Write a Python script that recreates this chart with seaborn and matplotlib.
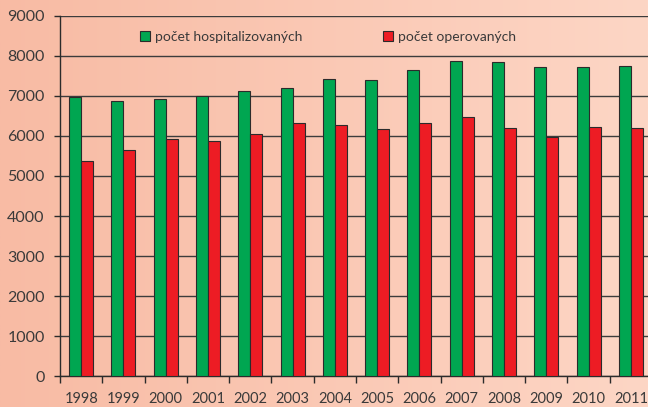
import matplotlib
matplotlib.use("Agg")
import matplotlib.pyplot as plt
import numpy as np
import pandas as pd
import seaborn as sns
from matplotlib.colors import LinearSegmentedColormap
from matplotlib.patches import Patch

years = [str(y) for y in range(1998, 2012)]
hospitalizovani = [6980, 6875, 6925, 6990, 7110, 7190, 7425, 7400, 7635, 7865, 7840, 7710, 7725, 7750]
operovani = [5375, 5660, 5925, 5875, 6050, 6310, 6260, 6160, 6310, 6465, 6200, 5985, 6225, 6200]
series_names = ["počet hospitalizovaných", "počet operovaných"]
series_colors = ["#00a651", "#ed1c24"]

df = pd.DataFrame({
    "rok": years * 2,
    "pocet": hospitalizovani + operovani,
    "serie": [series_names[0]] * len(years) + [series_names[1]] * len(years),
})

sns.set_theme(style="white")
plt.rcParams['font.family'] = ['Lato', 'DejaVu Sans']
text_col = "#3a3a3a"

fig = plt.figure(figsize=(6.48, 4.07), dpi=100)

# pozadi s prechodem (vlevo tmavsi losos, vpravo svetlejsi)
bg_ax = fig.add_axes([0, 0, 1, 1], zorder=-10)
bg_cmap = LinearSegmentedColormap.from_list("bg", ["#f8bba4", "#fdd6c5"])
bg_ax.imshow(np.linspace(0, 1, 256)[None, :], aspect="auto", cmap=bg_cmap,
             extent=[0, 1, 0, 1])
bg_ax.axis("off")

# osa siri 14 kategorii * 42.3 px -> presahuje pravy okraj obrazku
ax = fig.add_axes([60 / 648, 30.7 / 407, 592 / 648, 360.6 / 407])
ax.set_facecolor("none")

sns.barplot(data=df, x="rok", y="pocet", hue="serie", palette=series_colors,
            width=0.57, gap=0, edgecolor="#2b2b2b", linewidth=0.8,
            saturation=1, ax=ax, legend=False, zorder=3)

ax.set_ylim(0, 9000)
ax.set_xlim(-0.5, len(years) - 0.5)
ax.set_yticks(range(0, 9001, 1000))
ax.yaxis.grid(True, color="#3c3c3c", linewidth=1.0, zorder=0)
ax.set_axisbelow(True)
ax.set_xlabel("")
ax.set_ylabel("")

for side in ["top", "right"]:
    ax.spines[side].set_visible(False)
for side in ["left", "bottom"]:
    ax.spines[side].set_color("#2b2b2b")
    ax.spines[side].set_linewidth(1.0)

# x ticky mezi skupinami
ax.set_xticks(np.arange(len(years)) - 0.5, minor=True)
ax.tick_params(axis="x", which="minor", bottom=True, length=5, width=1, color="#2b2b2b")
ax.tick_params(axis="x", which="major", bottom=False, length=0, pad=11,
               labelsize=10.5, labelcolor=text_col)
ax.tick_params(axis="y", left=True, length=4, width=1, color="#2b2b2b", pad=7,
               labelsize=11.5, labelcolor=text_col)

handles = [Patch(facecolor=c, edgecolor="#2b2b2b", linewidth=0.8) for c in series_colors]
ax.legend(handles, series_names, loc="center left", bbox_to_anchor=(80 / 592, 0.941),
          ncol=2, frameon=False, borderpad=0, borderaxespad=0, handlelength=0.7,
          handleheight=0.7, handletextpad=0.4, columnspacing=5.8,
          prop={"size": 10}, labelcolor=text_col)

fig.savefig("out.png", dpi=100)
